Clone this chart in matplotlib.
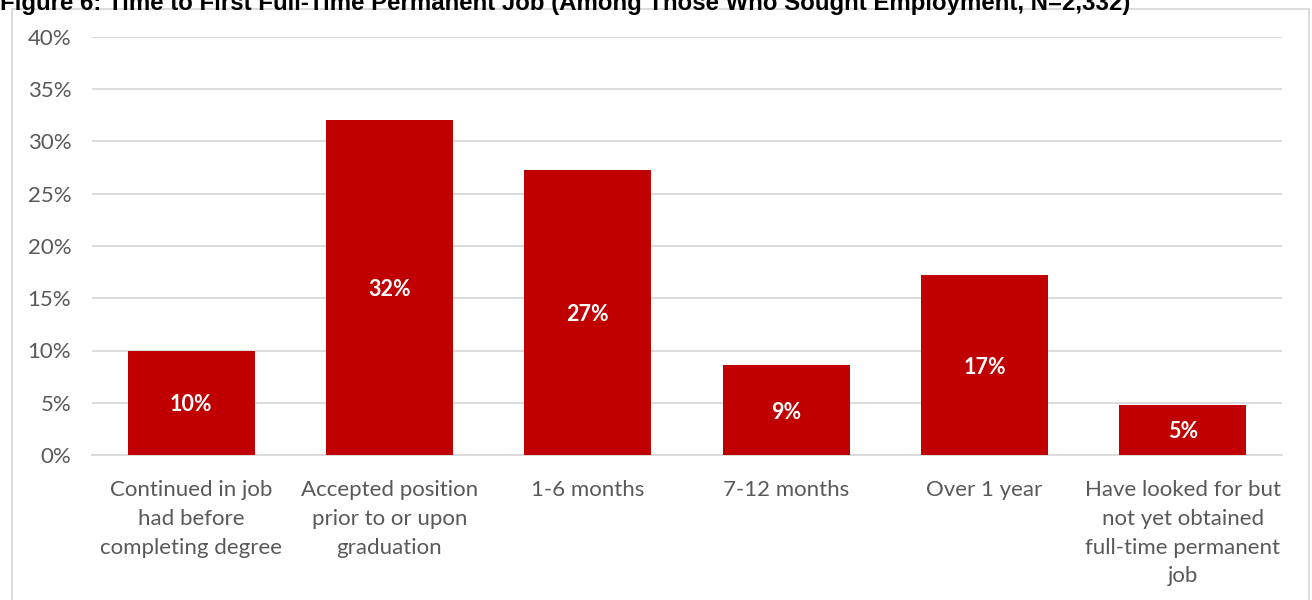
import matplotlib.pyplot as plt
from matplotlib.patches import Rectangle

categories = [
    'Continued in job\nhad before\ncompleting degree',
    'Accepted position\nprior to or upon\ngraduation',
    '1-6 months',
    '7-12 months',
    'Over 1 year',
    'Have looked for but\nnot yet obtained\nfull-time permanent\njob',
]
shares = [10.0, 32.1, 27.3, 8.6, 17.2, 4.8]
yticks = [0, 5, 10, 15, 20, 25, 30, 35, 40]
title = 'Figure 6: Time to First Full-Time Permanent Job (Among Those Who Sought Employment, N=2,332)'

bar_red = '#c00000'
grid_gray = '#d9d9d9'
text_gray = '#595959'
body_font = ['Lato', 'DejaVu Sans']

fig = plt.figure(figsize=(13.12, 6), dpi=100)
W, H = 1312, 600

# outer chart frame, running off the bottom edge
fig.patches.append(Rectangle((12 / W, -0.05), (1309 - 12) / W, 1.05 - 9 / H,
                             transform=fig.transFigure, fill=False,
                             edgecolor=grid_gray, linewidth=1.3))

fig.text(0.0, 1 - 10 / H, title, fontsize=17.3, fontweight='bold',
         family=['Liberation Sans', 'DejaVu Sans'], va='baseline', ha='left')

ax = fig.add_axes([92 / W, 1 - 455 / H, (1282 - 92) / W, (455 - 37) / H])
x = range(len(categories))
bars = ax.bar(x, shares, width=0.64, color=bar_red, zorder=3)

for b, v in zip(bars, shares):
    ax.text(b.get_x() + b.get_width() / 2, v / 2, f'{v:.0f}%',
            ha='center', va='center_baseline', color='white', fontsize=15.5,
            fontweight='bold', family=body_font, zorder=4)

ax.set_xlim(-0.5, len(categories) - 0.5)
ax.set_ylim(0, 40)
ax.set_yticks(yticks)
ax.set_yticklabels([f'{t}%' for t in yticks])
ax.set_xticks(list(x))
ax.set_xticklabels(categories, linespacing=1.55)

ax.grid(axis='y', color=grid_gray, linewidth=1.3, zorder=0)
for s in ['top', 'right', 'left']:
    ax.spines[s].set_visible(False)
ax.spines['bottom'].set_color(grid_gray)
ax.spines['bottom'].set_linewidth(1.3)
ax.tick_params(axis='both', length=0, labelcolor=text_gray, labelsize=16)
ax.tick_params(axis='y', pad=15)
ax.tick_params(axis='x', pad=18)
for lab in ax.get_xticklabels() + ax.get_yticklabels():
    lab.set_family(body_font)

fig.savefig('out.png', dpi=100)
